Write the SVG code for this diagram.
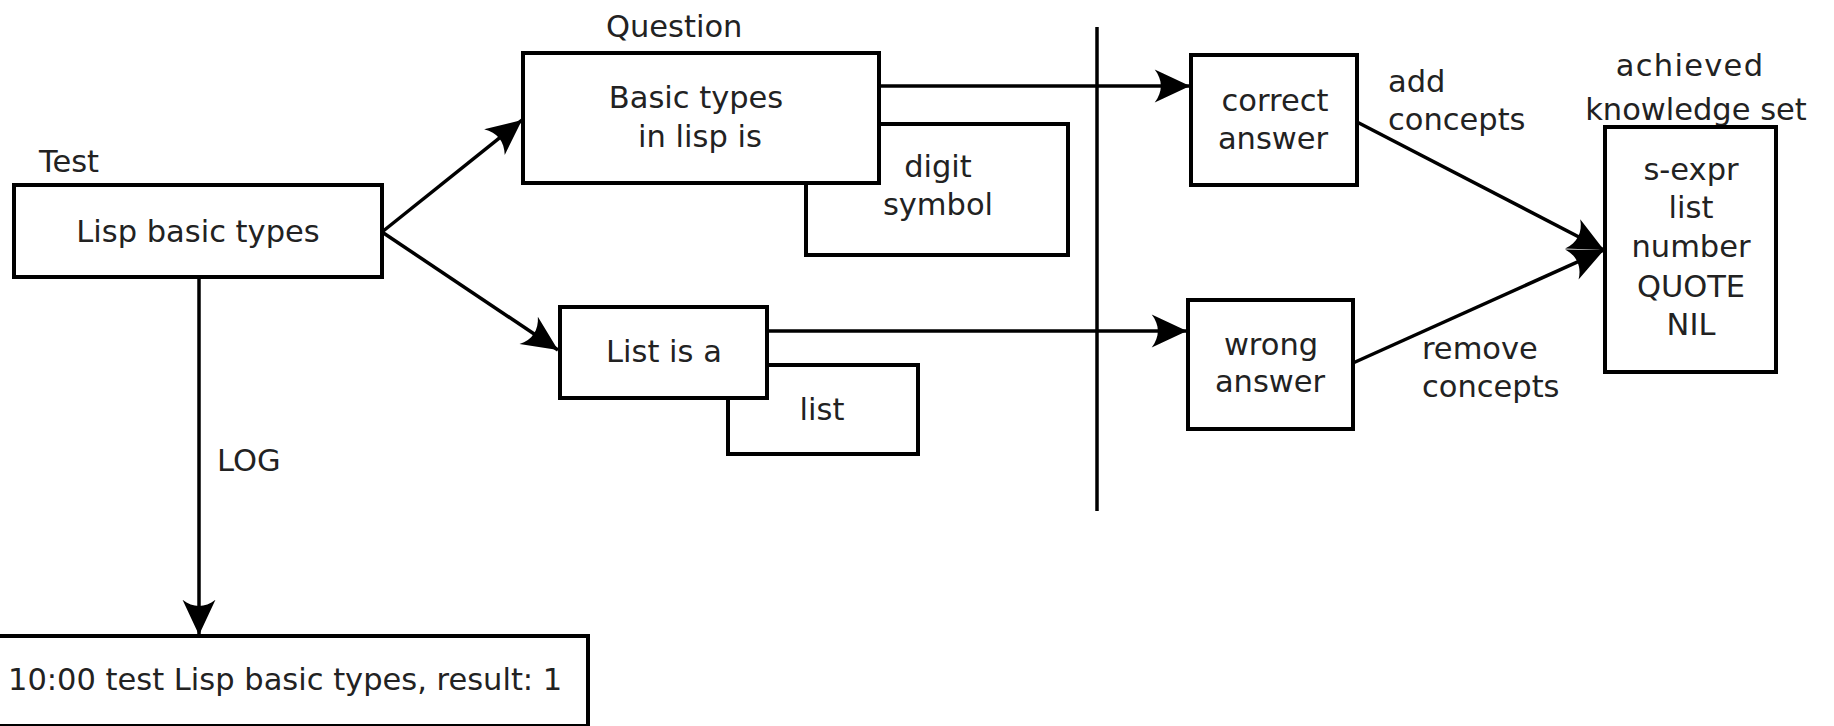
<svg xmlns="http://www.w3.org/2000/svg" width="1834" height="726" viewBox="0 0 1834 726">
<style>
.box{fill:#fff;stroke:#000;stroke-width:4}
.t{font-family:"DejaVu Sans",sans-serif;font-size:30.5px;fill:#222}
.c{text-anchor:middle}
.con{fill:none;stroke:#000;stroke-width:3.5}
</style>
<defs>
<marker id="ah" markerUnits="userSpaceOnUse" markerWidth="40" markerHeight="40" viewBox="-32 -16 34 32" refX="0" refY="0" orient="auto">
<path d="M0,0 L-30,-14 C-23,-5 -23,5 -30,14 Z" fill="#000"/>
</marker>
</defs>
<rect width="1834" height="726" fill="#fff"/>
<g id="connectors">
<line class="con" x1="199" y1="277" x2="199" y2="635" marker-end="url(#ah)"/>
<line class="con" x1="382" y1="232" x2="522" y2="120" marker-end="url(#ah)"/>
<line class="con" x1="382" y1="232" x2="558" y2="350" marker-end="url(#ah)"/>
<line class="con" x1="879" y1="86" x2="1190" y2="86" marker-end="url(#ah)"/>
<line class="con" x1="767" y1="331" x2="1187" y2="331" marker-end="url(#ah)"/>
<line class="con" x1="1357" y1="122" x2="1604" y2="250" marker-end="url(#ah)"/>
<line class="con" x1="1353" y1="363" x2="1604" y2="250" marker-end="url(#ah)"/>
<line x1="1097" y1="27" x2="1097" y2="511" stroke="#000" stroke-width="3.5"/>
</g>
<g id="test">
<text class="t" x="39" y="172">Test</text>
<rect class="box" x="14" y="185" width="368" height="92"/>
<text class="t c" x="198" y="242">Lisp basic types</text>
</g>
<g id="log-label"><text class="t" x="217" y="471">LOG</text></g>
<g id="log">
<rect class="box" x="-10" y="636" width="598" height="90"/>
<text class="t" x="8" y="690">10:00 test Lisp basic types, result: 1</text>
</g>
<g id="digit-symbol">
<rect class="box" x="806" y="124" width="262" height="131"/>
<text class="t c" x="938" y="177">digit</text>
<text class="t c" x="938" y="215">symbol</text>
</g>
<g id="question">
<text class="t" x="606" y="37">Question</text>
<rect class="box" x="523" y="53" width="356" height="130"/>
<text class="t c" x="696" y="108">Basic types</text>
<text class="t c" x="700" y="147">in lisp is</text>
</g>
<g id="list">
<rect class="box" x="728" y="365" width="190" height="89"/>
<text class="t c" x="822" y="420">list</text>
</g>
<g id="list-is-a">
<rect class="box" x="560" y="307" width="207" height="91"/>
<text class="t c" x="664" y="362">List is a</text>
</g>
<g id="correct">
<rect class="box" x="1191" y="55" width="166" height="130"/>
<text class="t c" x="1275" y="111">correct</text>
<text class="t c" x="1273" y="149">answer</text>
</g>
<g id="wrong">
<rect class="box" x="1188" y="300" width="165" height="129"/>
<text class="t c" x="1271" y="355">wrong</text>
<text class="t c" x="1270" y="392">answer</text>
</g>
<g id="edge-labels">
<text class="t" x="1388" y="92">add</text>
<text class="t" x="1388" y="130">concepts</text>
<text class="t" x="1422" y="359">remove</text>
<text class="t" x="1422" y="397">concepts</text>
</g>
<g id="knowledge">
<text class="t c" x="1690" y="76" letter-spacing="1.3">achieved</text>
<text class="t c" x="1696" y="120">knowledge set</text>
<rect class="box" x="1605" y="127" width="171" height="245"/>
<text class="t c" x="1691" y="180">s-expr</text>
<text class="t c" x="1691" y="218">list</text>
<text class="t c" x="1691" y="257">number</text>
<text class="t c" x="1691" y="297">QUOTE</text>
<text class="t c" x="1691" y="335">NIL</text>
</g>
</svg>
